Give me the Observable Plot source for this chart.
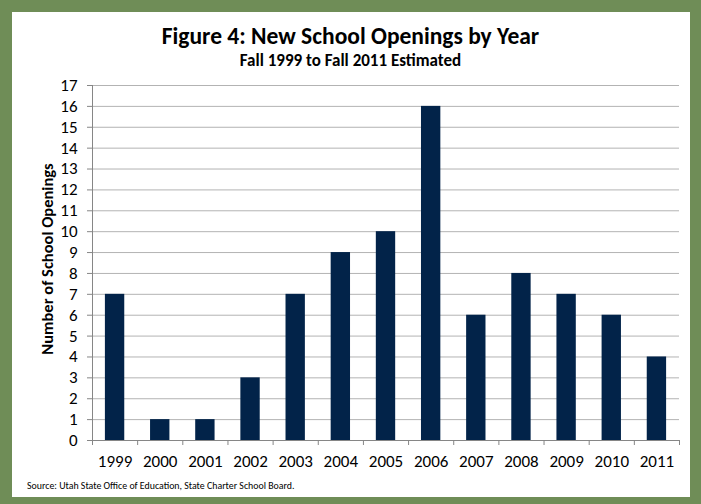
<!DOCTYPE html>
<html><head><meta charset="utf-8">
<script src="https://cdn.jsdelivr.net/npm/d3@7"></script>
<script src="https://cdn.jsdelivr.net/npm/@observablehq/plot@0.6"></script>
<style>
html,body{margin:0;padding:0;background:#fff;}
#frame{position:relative;width:701px;height:504px;background:#6F8D57;overflow:hidden;font-family:Carlito,Lato,sans-serif;color:#000;}
#inner{position:absolute;left:12px;top:12px;width:678px;height:485px;background:#fff;}
.t{position:absolute;left:0;width:701px;text-align:center;font-weight:bold;line-height:1;white-space:nowrap;}
#title{top:25px;font-size:23.5px;}
#subtitle{top:52px;font-size:17px;}
#source{position:absolute;left:27px;top:482px;font-size:9.9px;line-height:1;white-space:nowrap;}
#chart{position:absolute;left:0;top:0;}
</style>
</head><body>
<div id="frame">
  <div id="inner"></div>
  <div id="chart"></div>
  <div class="t" id="title">Figure 4: New School Openings by Year</div>
  <div class="t" id="subtitle">Fall 1999 to Fall 2011 Estimated</div>
  <div id="source">Source: Utah State Office of Education, State Charter School Board.</div>
</div>
<script>
const years = [1999, 2000, 2001, 2002, 2003, 2004, 2005, 2006, 2007, 2008, 2009, 2010, 2011];
const openings = [7, 1, 1, 3, 7, 9, 10, 16, 6, 8, 7, 6, 4];
const yTicks = d3.range(0, 18);
const yLabel = "Number of School Openings";

const data = years.map((year, i) => ({year, value: openings[i]}));
const boundaries = years.map(y => y - 0.5).concat([years[years.length - 1] + 0.5]);

const chart = Plot.plot({
  width: 701,
  height: 504,
  marginLeft: 92,
  marginRight: 22,
  marginTop: 85,
  marginBottom: 64,
  style: {background: "transparent", fontFamily: "Carlito, Lato, sans-serif", color: "#000"},
  x: {type: "linear", domain: [boundaries[0], boundaries[boundaries.length - 1]]},
  y: {domain: [0, 17]},
  marks: [
    Plot.gridY(yTicks, {stroke: "#B3B3B3", strokeOpacity: 1}),
    Plot.rectY(data, {x1: d => d.year - 0.5, x2: d => d.year + 0.5, y: "value", insetLeft: 12.9, insetRight: 12.9, fill: "#022349"}),
    Plot.ruleX([boundaries[0]], {stroke: "#868686"}),
    Plot.ruleY([0], {stroke: "#868686"}),
    Plot.axisY(yTicks, {tickSize: 5, tickPadding: 10, stroke: "#868686", fill: "#000", fontSize: 17, label: null, tickFormat: d => String(d)}),
    Plot.axisX(boundaries, {tickSize: 5, tickFormat: () => "", stroke: "#868686", label: null}),
    Plot.axisX(years, {tickSize: 0, tickPadding: 14, tickFormat: d => String(d), fill: "#000", fontSize: 17, label: null}),
    Plot.text([yLabel], {frameAnchor: "left", textAnchor: "middle", rotate: -90, dx: -45, dy: -4, fontWeight: "bold", fontSize: 16.5, fill: "#000"})
  ]
});
document.getElementById("chart").appendChild(chart);
</script>
</body></html>
